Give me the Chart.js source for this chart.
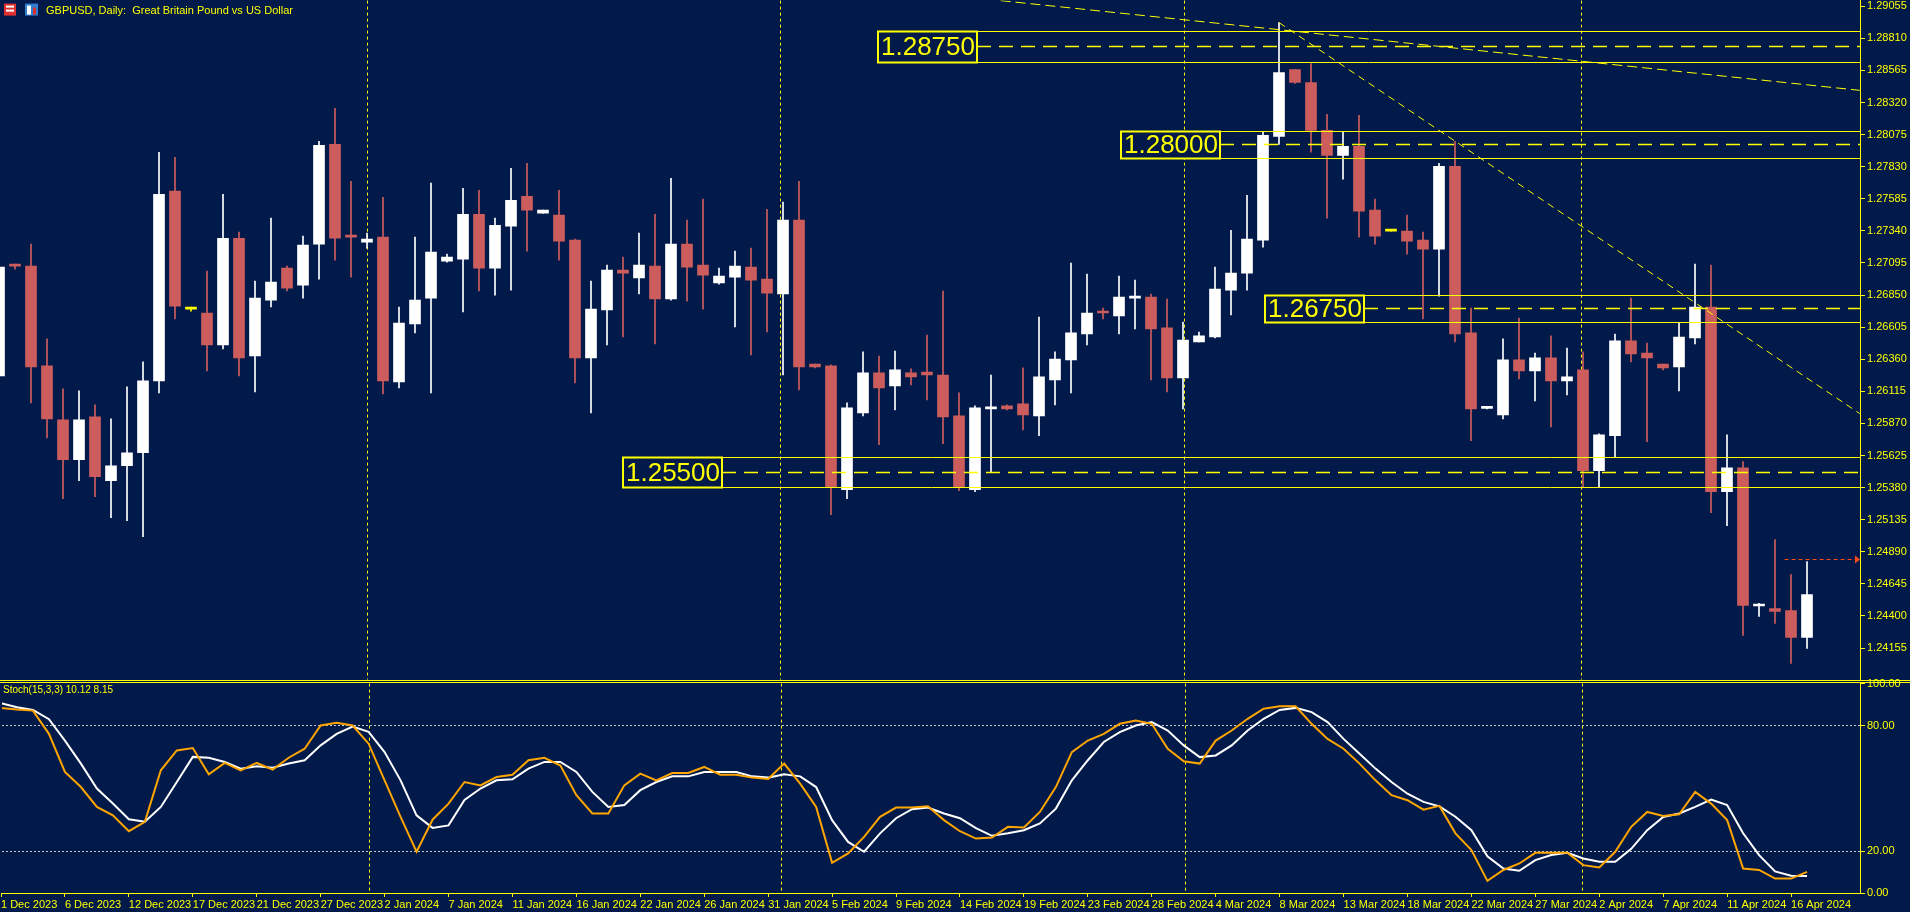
<!DOCTYPE html>
<html><head><meta charset="utf-8">
<script src="https://cdn.jsdelivr.net/npm/chart.js@4.4.1/dist/chart.umd.min.js"></script>
<style>
html,body{margin:0;padding:0;background:#021a4a;overflow:hidden;width:1910px;height:912px;}
#w1{position:absolute;left:0;top:0;width:1910px;height:680px;overflow:hidden;}
#c1{position:absolute;left:0;top:-8px;}
#c2{position:absolute;left:0;top:675px;}
.sep{position:absolute;left:0;width:1910px;height:1px;background:#ffff00;}
</style></head><body>
<div id="w1"><canvas id="c1" width="1910" height="696"></canvas></div>
<div class="sep" style="top:680px"></div><div class="sep" style="top:682px"></div>
<canvas id="c2" width="1910" height="237"></canvas>
<script>
const openP=[1.26233,1.27086,1.27071,1.26309,1.25898,1.25593,1.25920,1.25433,1.25547,1.25646,1.26195,1.27643,1.26743,1.26713,1.26469,1.27284,1.26385,1.26812,1.27056,1.26926,1.27239,1.28001,1.27307,1.27254,1.27292,1.26187,1.26629,1.26827,1.27109,1.27124,1.27467,1.27056,1.27376,1.27604,1.27475,1.27460,1.27269,1.26370,1.26736,1.27041,1.26980,1.27071,1.26820,1.27239,1.27079,1.26942,1.26987,1.27063,1.26972,1.26858,1.27422,1.26324,1.26309,1.25364,1.25951,1.26256,1.26157,1.26256,1.26263,1.26240,1.25928,1.25364,1.25981,1.26004,1.26020,1.25928,1.26202,1.26355,1.26553,1.26728,1.26690,1.26827,1.26835,1.26599,1.26218,1.26492,1.26530,1.26888,1.27018,1.27269,1.28062,1.28572,1.28473,1.28107,1.27917,1.27985,1.27498,1.27338,1.27338,1.27269,1.27201,1.27833,1.26561,1.25985,1.25936,1.26355,1.26271,1.26370,1.26195,1.26279,1.25509,1.25776,1.26500,1.26408,1.26324,1.26301,1.26522,1.26759,1.25349,1.25532,1.24476,1.24457,1.24442,1.24236];
const highP=[1.27102,1.27086,1.27239,1.26515,1.26134,1.26119,1.26012,1.25905,1.26149,1.26340,1.27940,1.27902,1.26759,1.27033,1.27620,1.27330,1.26957,1.27437,1.27071,1.27300,1.28024,1.28275,1.27719,1.27323,1.27597,1.26759,1.27292,1.27704,1.27163,1.27665,1.27650,1.27437,1.27818,1.27856,1.27498,1.27650,1.27277,1.26957,1.27079,1.27140,1.27323,1.27467,1.27742,1.27422,1.27582,1.27056,1.27185,1.27208,1.27505,1.27559,1.27719,1.26324,1.26317,1.26027,1.26416,1.26385,1.26423,1.26286,1.26545,1.26881,1.26103,1.26004,1.26240,1.26012,1.26294,1.26682,1.26416,1.27094,1.27010,1.26751,1.26995,1.26964,1.26858,1.26820,1.26644,1.26568,1.27063,1.27345,1.27612,1.28100,1.28930,1.28572,1.28618,1.28229,1.28100,1.28222,1.27582,1.27338,1.27460,1.27330,1.27856,1.28024,1.26751,1.25989,1.26515,1.26675,1.26408,1.26538,1.26446,1.26416,1.25791,1.26553,1.26827,1.26484,1.26324,1.26637,1.27086,1.27079,1.25783,1.25578,1.24496,1.24983,1.24716,1.24816];
const lowP=[1.26202,1.27048,1.26027,1.25760,1.25296,1.25433,1.25311,1.25151,1.25128,1.25006,1.26103,1.26667,1.26728,1.26271,1.26439,1.26233,1.26111,1.26759,1.26881,1.26827,1.26972,1.27117,1.26987,1.27208,1.26096,1.26141,1.26561,1.26103,1.27102,1.26721,1.26881,1.26850,1.26888,1.27185,1.27475,1.27117,1.26180,1.25951,1.26469,1.26530,1.26858,1.26477,1.26812,1.26804,1.26743,1.26934,1.26606,1.26393,1.26568,1.26240,1.26126,1.26294,1.25174,1.25296,1.25928,1.25707,1.25974,1.26164,1.26050,1.25715,1.25357,1.25349,1.25494,1.25974,1.25821,1.25776,1.26012,1.26103,1.26469,1.26667,1.26553,1.26591,1.26202,1.26111,1.25981,1.26492,1.26522,1.26698,1.26888,1.27216,1.28001,1.28466,1.27940,1.27437,1.27734,1.27292,1.27239,1.27338,1.27163,1.26667,1.26842,1.26492,1.25738,1.25981,1.25905,1.26210,1.26042,1.25844,1.26088,1.25387,1.25387,1.25616,1.26340,1.25730,1.26279,1.26119,1.26477,1.25189,1.25090,1.24252,1.24396,1.24343,1.24038,1.24153];
const closeP=[1.27063,1.27071,1.26301,1.25905,1.25593,1.25898,1.25463,1.25547,1.25646,1.26195,1.27620,1.26766,1.26743,1.26469,1.27284,1.26370,1.26827,1.26949,1.26903,1.27231,1.27993,1.27284,1.27292,1.27277,1.26195,1.26637,1.26812,1.27178,1.27140,1.27467,1.27056,1.27383,1.27574,1.27498,1.27498,1.27262,1.26370,1.26743,1.27041,1.27018,1.27079,1.26820,1.27239,1.27063,1.27002,1.26995,1.27071,1.26964,1.26865,1.27422,1.26301,1.26301,1.25387,1.25989,1.26256,1.26141,1.26279,1.26225,1.26240,1.25920,1.25387,1.25989,1.25997,1.25981,1.25936,1.26225,1.26362,1.26561,1.26713,1.26713,1.26835,1.26842,1.26591,1.26218,1.26507,1.26538,1.26896,1.27018,1.27277,1.28069,1.28549,1.28473,1.28107,1.27917,1.27985,1.27490,1.27300,1.27338,1.27262,1.27201,1.27833,1.26553,1.25981,1.25989,1.26355,1.26271,1.26370,1.26195,1.26225,1.25509,1.25783,1.26500,1.26401,1.26370,1.26294,1.26530,1.26759,1.25349,1.25532,1.24480,1.24480,1.24435,1.24236,1.24564];
const stochK=[88.4,87.6,87.1,76,57.8,50.6,41.1,37.1,29.5,34,58.6,68.1,69.2,56.7,62.1,58.6,62.1,58.9,64.6,68.9,80,81.3,80,71.3,53.8,36.4,19.7,35,42.7,53,51.4,55.4,56.5,63.4,64.6,60.9,46.7,38,38,51.4,57,53.8,57.3,57.3,60.2,56.5,56.5,55.1,54.4,61.8,52.2,41.1,14.4,18.9,26.8,36.4,40.8,40.8,41.4,34.8,29.5,26,26.5,31.6,31.3,38.7,50.6,67.3,72.8,76,80.8,82.4,80.8,68.9,62.9,61.8,72.8,77.6,83.2,88,89.2,89.2,80.8,73.6,68.9,61.8,53.8,46.7,44.3,39.8,41.6,28.5,20.5,5.8,11,14.1,19.2,19.2,19.2,13.3,12.2,19.7,31.6,38.7,36.8,37.6,48.3,42.7,34.8,11.7,11,6.9,6.9,10.12];
const stochD=[90.6,88.7,87.4,83,72.8,61.8,49.9,42.7,35.2,34,41.1,53,65,64.6,62.6,59.4,60.5,59.8,61.8,63.4,70.5,76,79.5,77,67.3,53.8,37.1,31.1,32.3,44.4,49.9,53.8,54.3,59.4,62.6,62.6,57.8,48.3,41.1,42,49.1,53,55.7,55.7,57.8,57.8,57.8,55.7,55.1,56.7,55.7,50.6,34.8,24.4,19.7,28.5,35.7,40,40.8,38,35.7,31,27.3,28.5,30,33.2,40.3,53.8,63.4,72.1,76.8,80,81.6,77.6,70.5,64.9,65.7,70.5,77.6,83.2,87.4,88.4,86.4,81.6,73.6,66.5,59.4,53,47.4,43.5,41.4,36.4,30,17.5,11.7,10.6,15.7,18.1,19.2,16.5,14.9,14.9,21.1,30,36.3,38,41.1,44.6,42,28.5,18.1,10.3,8.2,8.15];
const dateLabels=["1 Dec 2023","6 Dec 2023","12 Dec 2023","17 Dec 2023","21 Dec 2023","27 Dec 2023","2 Jan 2024","7 Jan 2024","11 Jan 2024","16 Jan 2024","22 Jan 2024","26 Jan 2024","31 Jan 2024","5 Feb 2024","9 Feb 2024","14 Feb 2024","19 Feb 2024","23 Feb 2024","28 Feb 2024","4 Mar 2024","8 Mar 2024","13 Mar 2024","18 Mar 2024","22 Mar 2024","27 Mar 2024","2 Apr 2024","7 Apr 2024","11 Apr 2024","16 Apr 2024"];
const priceTicks=[1.29055,1.28810,1.28565,1.28320,1.28075,1.27830,1.27585,1.27340,1.27095,1.26850,1.26605,1.26360,1.26115,1.25870,1.25625,1.25380,1.25135,1.24890,1.24645,1.24400,1.24155];
const stochTicks=[0,20,80,100];
const levelPrices=[1.28750,1.28000,1.26750,1.25500];
const levelHalfBand=[0.00118,0.00103,0.00102,0.00114];
const levelBoxStart=[54.875,70.06,79.06,38.94];
const monthSeparators=[23,48.8,74.06,98.9];
const trendLines=[[62.6,1.29098,116.3,1.28413,[10,5]],[80,1.28930,116.3,1.25945,[7,5]]];
const bidPrice=1.24838;

const BG='#021a4a', RED='#cd5c5c', YEL='#ffff00';
const N=openP.length;
const colors=openP.map((o,i)=>closeP[i]>o?'#ffffff':closeP[i]<o?RED:YEL);
const XMIN=0.0625, XMAX=116.3125;
const font={family:'Liberation Sans',size:11};

function vLines(chart){
  const {ctx,chartArea:a,scales:{x}}=chart;
  ctx.save();ctx.strokeStyle=YEL;ctx.lineWidth=1;ctx.setLineDash([3,3]);
  monthSeparators.forEach(v=>{const px=Math.round(x.getPixelForValue(v))+0.5;ctx.beginPath();ctx.moveTo(px,a.top);ctx.lineTo(px,a.bottom);ctx.stroke();});
  ctx.restore();
}
const pricePlugin={id:'pp',
  beforeDatasetsDraw(chart){vLines(chart);},
  afterDatasetsDraw(chart){
    const {ctx,chartArea:a,scales:{x,y}}=chart;
    ctx.save();
    ctx.beginPath();ctx.rect(a.left,a.top,a.right-a.left,a.bottom-a.top);ctx.clip();
    trendLines.forEach(t=>{ctx.strokeStyle=YEL;ctx.lineWidth=1;ctx.setLineDash(t[4]);ctx.beginPath();
      ctx.moveTo(x.getPixelForValue(t[0]),y.getPixelForValue(t[1]));ctx.lineTo(x.getPixelForValue(t[2]),y.getPixelForValue(t[3]));ctx.stroke();});
    levelPrices.forEach((p,k)=>{
      const x0=Math.round(x.getPixelForValue(levelBoxStart[k]));
      const yt=Math.round(y.getPixelForValue(p+levelHalfBand[k]))+0.5, yb=Math.round(y.getPixelForValue(p-levelHalfBand[k]))+0.5, ym=Math.round(y.getPixelForValue(p))+0.5;
      ctx.strokeStyle=YEL;ctx.lineWidth=1;ctx.setLineDash([]);
      ctx.beginPath();ctx.moveTo(x0,yt);ctx.lineTo(a.right,yt);ctx.moveTo(x0,yb);ctx.lineTo(a.right,yb);ctx.stroke();
      ctx.setLineDash([14,8]);ctx.lineWidth=1.5;ctx.beginPath();ctx.moveTo(x0+100,ym);ctx.lineTo(a.right,ym);ctx.stroke();
      ctx.setLineDash([]);ctx.fillStyle=BG;ctx.fillRect(x0,yt,100,yb-yt);
      ctx.lineWidth=2;ctx.strokeRect(x0+1,yt,99,yb-yt);
      ctx.fillStyle=YEL;ctx.font='26px "Liberation Sans"';ctx.textAlign='center';ctx.textBaseline='middle';
      ctx.fillText(p.toFixed(5),x0+51,(yt+yb)/2+1);
    });
    const by=Math.round(y.getPixelForValue(bidPrice))+0.5;
    ctx.strokeStyle='#ff4a1a';ctx.lineWidth=1;ctx.setLineDash([4,3]);ctx.beginPath();ctx.moveTo(x.getPixelForValue(111.6),by);ctx.lineTo(a.right-4,by);ctx.stroke();
    ctx.setLineDash([]);ctx.fillStyle='#ff4a1a';ctx.beginPath();ctx.moveTo(a.right-5,by-4);ctx.lineTo(a.right,by);ctx.lineTo(a.right-5,by+4);ctx.fill();
    ctx.restore();
    ctx.save();
    ctx.fillStyle='#e03030';ctx.fillRect(4,a.top+3,12,12);ctx.fillStyle='#ffffff';ctx.fillRect(6,a.top+5,8,2);ctx.fillRect(6,a.top+9,8,2);
    ctx.fillStyle='#2f7fd0';ctx.fillRect(25,a.top+3,13,12);ctx.fillStyle='#ffffff';ctx.fillRect(27,a.top+5,4,9);ctx.fillStyle='#e03030';ctx.fillRect(33,a.top+7,3,7);
    ctx.fillStyle=YEL;ctx.font='11px "Liberation Sans Narrow","Liberation Sans"';ctx.textBaseline='middle';ctx.textAlign='left';
    ctx.fillText('GBPUSD, Daily:  Great Britain Pound vs US Dollar',46,a.top+10);
    ctx.restore();
  }};

new Chart(document.getElementById('c1'),{
  type:'bar',
  data:{datasets:[
    {data:openP.map((o,i)=>({x:i,y:[lowP[i],highP[i]]})),backgroundColor:colors,barThickness:1,grouped:false,order:2},
    {data:openP.map((o,i)=>({x:i,y:[o,closeP[i]]})),backgroundColor:colors,barThickness:11,minBarLength:2,grouped:false,order:1}
  ]},
  options:{responsive:false,animation:false,devicePixelRatio:1,
    layout:{padding:{top:8,bottom:8,left:0,right:0}},
    plugins:{legend:{display:false},tooltip:{enabled:false}},
    scales:{
      x:{type:'linear',min:XMIN,max:XMAX,offset:false,display:false,grid:{offset:false}},
      y:{position:'right',min:1.23916,max:1.29098,
        afterFit(s){s.width=50;},
        afterBuildTicks(s){s.ticks=priceTicks.map(v=>({value:v}));},
        ticks:{color:YEL,font,padding:2,callback:v=>Number(v).toFixed(5)},
        grid:{drawOnChartArea:false,tickLength:5,color:YEL},
        border:{color:YEL,width:1}}
    }},
  plugins:[pricePlugin]
});

const stochPlugin={id:'sp',
  beforeDatasetsDraw(chart){
    vLines(chart);
    const {ctx,chartArea:a,scales:{y}}=chart;
    ctx.save();ctx.strokeStyle='#c8c8c8';ctx.lineWidth=1;ctx.setLineDash([2,2]);
    [20,80].forEach(v=>{const py=Math.round(y.getPixelForValue(v))+0.5;ctx.beginPath();ctx.moveTo(a.left,py);ctx.lineTo(a.right,py);ctx.stroke();});
    ctx.restore();
  },
  afterDraw(chart){
    const {ctx,chartArea:a}=chart;
    ctx.save();ctx.fillStyle=YEL;ctx.font='10px "Liberation Sans Narrow","Liberation Sans"';ctx.textBaseline='middle';
    ctx.fillText('Stoch(15,3,3) '+stochK[N-1].toFixed(2)+' '+stochD[N-1].toFixed(2),3,a.top+7);
    ctx.restore();
  }};

new Chart(document.getElementById('c2'),{
  type:'line',
  data:{datasets:[
    {data:stochK.map((v,i)=>({x:i,y:v})),borderColor:'#ffa500',borderWidth:2,pointRadius:0,tension:0},
    {data:stochD.map((v,i)=>({x:i,y:v})),borderColor:'#ffffff',borderWidth:2,pointRadius:0,tension:0}
  ]},
  options:{responsive:false,animation:false,devicePixelRatio:1,
    layout:{padding:{top:8,bottom:0,left:0,right:0}},
    plugins:{legend:{display:false},tooltip:{enabled:false}},
    scales:{
      x:{type:'linear',min:XMIN,max:XMAX,
        afterFit(s){s.height=19;},
        afterBuildTicks(s){s.ticks=dateLabels.map((d,k)=>({value:k*4}));},
        ticks:{color:YEL,font:{family:'Liberation Sans',size:11},align:'start',maxRotation:0,autoSkip:false,padding:1,
          callback:v=>dateLabels[Math.round(v/4)]},
        grid:{drawOnChartArea:false,tickLength:4,color:YEL},
        border:{color:YEL,width:1}},
      y:{position:'right',min:0,max:100,
        afterFit(s){s.width=50;},
        afterBuildTicks(s){s.ticks=stochTicks.map(v=>({value:v}));},
        ticks:{color:YEL,font,padding:2,callback:v=>Number(v).toFixed(2)},
        grid:{drawOnChartArea:false,tickLength:5,color:YEL},
        border:{color:YEL,width:1}}
    }},
  plugins:[stochPlugin]
});
</script></body></html>
